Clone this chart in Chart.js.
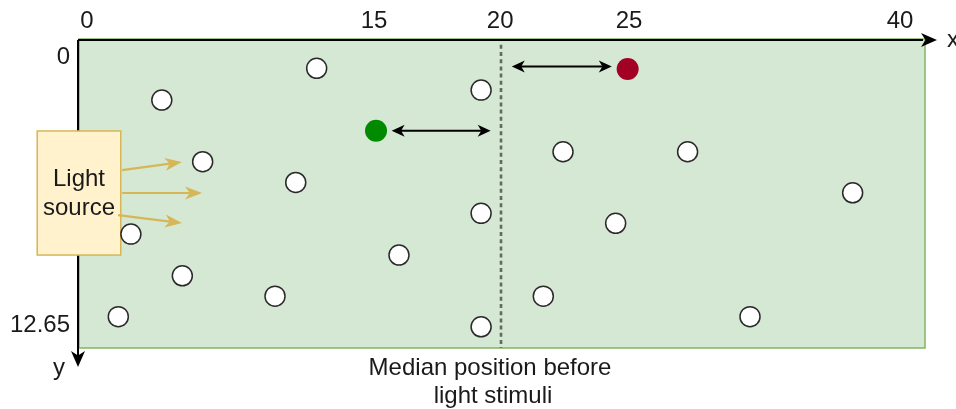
<!DOCTYPE html>
<html><head><meta charset="utf-8">
<script src="https://cdn.jsdelivr.net/npm/chart.js@4.4.0/dist/chart.umd.min.js"></script>
<style>html,body{margin:0;padding:0;background:#fff;overflow:hidden}canvas{display:block}</style>
</head><body>
<canvas id="c" width="956" height="409"></canvas>
<script>
// ---- tick labels and where they sit along the schematic axes ----
const xTickLabels = ['0', '15', '20', '25', '40'];
const xTickValues = [0, 14.12, 20.33, 26.67, 40];
const yTickLabels = ['0', '12.65'];
const yTickValues = [0, 12.65];

// ---- fish positions (white markers) ----
const fishX = [11.30, 3.68, 19.39, 23.42, 29.55, 5.69, 10.27, 37.67, 19.39, 26.01, 2.16, 15.35, 4.69, 9.25, 22.45, 1.54, 32.62, 19.39];
const fishY = [0.51, 2.01, 1.54, 4.45, 4.45, 4.92, 5.90, 6.39, 7.36, 7.83, 8.34, 9.33, 10.31, 11.27, 11.27, 12.24, 12.24, 12.72];
// highlighted fish
const greenFishX = [14.22];
const greenFishY = [3.46];
const redFishX = [26.60];
const redFishY = [0.54];
// median position before light stimuli
const medianX = [20.37];
// distance arrows to the median: from x, to x, at y
const arrowFromX = [20.90, 14.99];
const arrowToX = [25.82, 19.86];
const arrowY = [0.43, 3.46];

const FONT = '"Liberation Sans", Arial, Helvetica, sans-serif';
const FS = 24;
const TXT = '#1a1a1a';

function pts(xs, ys) { return xs.map((x, i) => ({ x: x, y: ys[i] })); }

function head(ctx, x, y, ang, len, wid, color) {
  ctx.save();
  ctx.translate(x, y); ctx.rotate(ang);
  ctx.beginPath();
  ctx.moveTo(0, 0);
  ctx.lineTo(-len, -wid / 2);
  ctx.lineTo(-len * 0.72, 0);
  ctx.lineTo(-len, wid / 2);
  ctx.closePath();
  ctx.fillStyle = color; ctx.fill();
  ctx.restore();
}
function arrow(ctx, x1, y1, x2, y2, color, lw, len, wid, both) {
  const a = Math.atan2(y2 - y1, x2 - x1);
  ctx.save();
  ctx.strokeStyle = color; ctx.lineWidth = lw;
  ctx.beginPath();
  const sx = both ? x1 + Math.cos(a) * len * 0.7 : x1, sy = both ? y1 + Math.sin(a) * len * 0.7 : y1;
  ctx.moveTo(sx, sy);
  ctx.lineTo(x2 - Math.cos(a) * len * 0.7, y2 - Math.sin(a) * len * 0.7);
  ctx.stroke();
  ctx.restore();
  head(ctx, x2, y2, a, len, wid, color);
  if (both) head(ctx, x1, y1, a + Math.PI, len, wid, color);
}

// decorations expressed in axis units
const deco = {
  box: { x1: -2.45, x2: 1.66, y1: 3.47, y2: 9.33 },
  lightArrows: [
    { x1: 1.73, y1: 5.32, x2: 4.67, y2: 4.94 },
    { x1: 1.73, y1: 6.40, x2: 5.66, y2: 6.40 },
    { x1: 1.53, y1: 7.44, x2: 4.67, y2: 7.82 }
  ]
};

const bgPlugin = {
  id: 'bg',
  beforeDatasetsDraw(chart) {
    const { ctx, chartArea: a, scales: { x, y } } = chart;
    ctx.save();
    ctx.fillStyle = '#d5e8d4';
    ctx.fillRect(a.left, a.top, a.right - a.left, a.bottom - a.top);
    ctx.strokeStyle = '#82b366'; ctx.lineWidth = 1.5;
    ctx.strokeRect(a.left + 1, a.top - 1, a.right - a.left - 1, a.bottom - a.top + 1);
    // black axes with arrow heads
    ctx.strokeStyle = '#000'; ctx.lineWidth = 2;
    ctx.beginPath(); ctx.moveTo(a.left, a.top); ctx.lineTo(a.right - 2, a.top); ctx.stroke();
    head(ctx, a.right + 12, a.top, 0, 16, 14, '#000');
    ctx.beginPath(); ctx.moveTo(a.left, a.top); ctx.lineTo(a.left, a.bottom + 8); ctx.stroke();
    head(ctx, a.left, a.bottom + 19, Math.PI / 2, 16, 14, '#000');
    ctx.fillStyle = TXT; ctx.font = FS + 'px ' + FONT;
    ctx.textAlign = 'center'; ctx.textBaseline = 'middle';
    ctx.fillText('x', a.right + 28, a.top);
    ctx.fillText('y', a.left - 19, a.bottom + 20);
    // light source box
    const b = deco.box;
    const bx1 = x.getPixelForValue(b.x1), bx2 = x.getPixelForValue(b.x2);
    const by1 = y.getPixelForValue(b.y1), by2 = y.getPixelForValue(b.y2);
    ctx.fillStyle = '#fff2cc'; ctx.strokeStyle = '#d6b656'; ctx.lineWidth = 1.5;
    ctx.fillRect(bx1, by1, bx2 - bx1, by2 - by1);
    ctx.strokeRect(bx1, by1, bx2 - bx1, by2 - by1);
    ctx.fillStyle = TXT; ctx.font = FS + 'px ' + FONT;
    const cx = (bx1 + bx2) / 2, cy = (by1 + by2) / 2;
    ctx.fillText('Light', cx, cy - 14);
    ctx.fillText('source', cx, cy + 15);
    deco.lightArrows.forEach(l => {
      arrow(ctx, x.getPixelForValue(l.x1), y.getPixelForValue(l.y1),
        x.getPixelForValue(l.x2), y.getPixelForValue(l.y2), '#d6b656', 2.2, 17, 13, false);
    });
    ctx.restore();
  },
  afterDatasetsDraw(chart) {
    const { ctx, chartArea: a, scales: { x, y } } = chart;
    ctx.save();
    arrowFromX.forEach((fx, i) => {
      arrow(ctx, x.getPixelForValue(fx), y.getPixelForValue(arrowY[i]),
        x.getPixelForValue(arrowToX[i]), y.getPixelForValue(arrowY[i]), '#000', 2, 13, 12, true);
    });
    const mx = x.getPixelForValue(medianX[0]);
    ctx.fillStyle = TXT; ctx.font = FS + 'px ' + FONT;
    ctx.textAlign = 'center'; ctx.textBaseline = 'middle';
    ctx.fillText('Median position before', mx - 11, a.bottom + 20);
    ctx.fillText('light stimuli', mx - 8, a.bottom + 48);
    ctx.restore();
  }
};

new Chart(document.getElementById('c'), {
  type: 'scatter',
  data: {
    datasets: [
      {
        type: 'line', label: 'median',
        data: [{ x: medianX[0], y: -0.6 }, { x: medianX[0], y: 13.8 }],
        borderColor: '#626a62', borderWidth: 2.6, borderDash: [4, 3.2],
        pointRadius: 0, fill: false
      },
      {
        label: 'fish', data: pts(fishX, fishY),
        pointRadius: 10, pointBackgroundColor: '#ffffff', pointBorderColor: '#2a2a2a', pointBorderWidth: 1.5
      },
      {
        label: 'green', data: pts(greenFishX, greenFishY),
        pointRadius: 11, pointBackgroundColor: '#008a00', pointBorderColor: '#008a00', pointBorderWidth: 0
      },
      {
        label: 'red', data: pts(redFishX, redFishY),
        pointRadius: 11, pointBackgroundColor: '#a20025', pointBorderColor: '#a20025', pointBorderWidth: 0
      }
    ]
  },
  options: {
    responsive: false, animation: false, devicePixelRatio: 1,
    layout: { padding: { left: 0, top: 0, right: 31, bottom: 61 } },
    plugins: { legend: { display: false }, tooltip: { enabled: false } },
    scales: {
      x: {
        type: 'linear', position: 'top', min: -0.443, max: 41.23,
        afterFit(s) { s.height = 40; },
        afterBuildTicks(s) { s.ticks = xTickValues.map(v => ({ value: v })); },
        grid: { display: false, drawTicks: false },
        border: { display: false },
        ticks: {
          autoSkip: false, maxRotation: 0, padding: 4, color: TXT,
          font: { family: FONT, size: FS },
          callback: (v, i) => xTickLabels[i]
        }
      },
      y: {
        type: 'linear', position: 'left', reverse: true, min: -0.827, max: 13.72,
        afterFit(s) { s.width = 78; },
        afterBuildTicks(s) { s.ticks = yTickValues.map(v => ({ value: v })); },
        grid: { display: false, drawTicks: false },
        border: { display: false },
        ticks: {
          autoSkip: false, padding: 8, color: TXT,
          font: { family: FONT, size: FS },
          callback: (v, i) => yTickLabels[i]
        }
      }
    }
  },
  plugins: [bgPlugin]
});
</script>
</body></html>
